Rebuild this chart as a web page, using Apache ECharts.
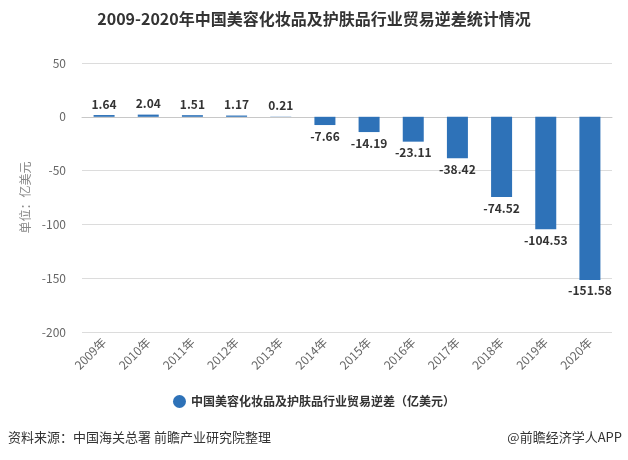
<!DOCTYPE html>
<html>
<head>
<meta charset="utf-8">
<script src="https://cdn.jsdelivr.net/npm/echarts@6/dist/echarts.min.js"></script>
<style>
html, body { margin: 0; padding: 0; background: #fff; }
#chart { width: 628px; height: 460px; }
</style>
</head>
<body>
<div id="chart"></div>
<script>
// 2009-2020 trade deficit, 100 million USD
const years = ['2009年', '2010年', '2011年', '2012年', '2013年', '2014年',
    '2015年', '2016年', '2017年', '2018年', '2019年', '2020年'];
const deficit = [1.64, 2.04, 1.51, 1.17, 0.21, -7.66, -14.19, -23.11, -38.42, -74.52, -104.53, -151.58];
const yTicks = [-200, 50];

const font = '"Noto Sans CJK SC", "Noto Sans", sans-serif';
const blue = '#2e72b8';

const chart = echarts.init(document.getElementById('chart'));

chart.setOption({
    textStyle: { fontFamily: font },
    title: {
        text: '2009-2020年中国美容化妆品及护肤品行业贸易逆差统计情况',
        left: 'center',
        top: 6,
        textStyle: { fontSize: 16, fontWeight: 'bold', color: '#333', fontFamily: font }
    },
    legend: {
        bottom: 47,
        left: 'center',
        icon: 'circle',
        itemWidth: 13,
        itemHeight: 13,
        textStyle: { fontSize: 12, fontWeight: 'bold', color: '#333' }
    },
    grid: {
        left: 82,
        right: 16,
        top: 63,
        bottom: 128
    },
    xAxis: {
        type: 'category',
        data: years,
        axisLine: { lineStyle: { color: '#c8c8c8' } },
        axisTick: { alignWithLabel: true, length: 5, lineStyle: { color: '#c8c8c8' } },
        axisLabel: { rotate: 45, color: '#666', fontSize: 12, margin: 8 }
    },
    yAxis: {
        type: 'value',
        min: yTicks[0],
        max: yTicks[1],
        interval: 50,
        name: '单位：亿美元',
        nameLocation: 'middle',
        nameGap: 47,
        nameTextStyle: { color: '#888', fontSize: 12 },
        axisLine: { show: false },
        axisTick: { show: false },
        axisLabel: { color: '#666', fontSize: 12, margin: 16 },
        splitLine: { lineStyle: { color: '#dcdcdc' } }
    },
    series: [
        {
            name: '中国美容化妆品及护肤品行业贸易逆差（亿美元）',
            type: 'bar',
            barWidth: 21,
            itemStyle: { color: blue },
            label: {
                show: true,
                color: '#333',
                fontSize: 12,
                fontWeight: 'bold',
                distance: 5
            },
            data: deficit.map(v => ({
                value: v,
                label: { position: v < 0 ? 'bottom' : 'top' }
            }))
        }
    ],
    graphic: [
        {
            type: 'text',
            left: 8,
            top: 431,
            style: { text: '资料来源：中国海关总署 前瞻产业研究院整理', fill: '#333', fontSize: 13, fontFamily: font }
        },
        {
            type: 'text',
            right: 6,
            top: 431,
            style: { text: '@前瞻经济学人APP', fill: '#333', fontSize: 13, fontFamily: font }
        }
    ]
});
</script>
</body>
</html>
